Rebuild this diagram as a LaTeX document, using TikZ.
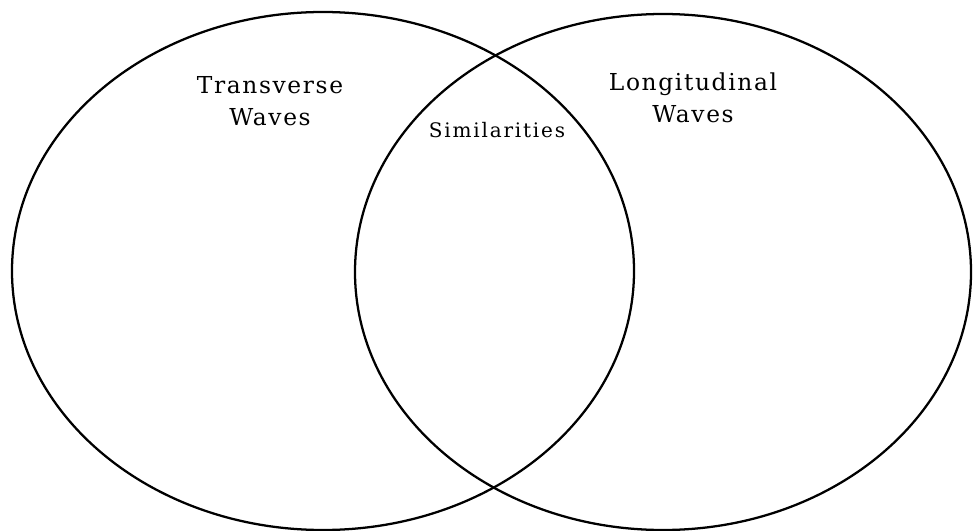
\documentclass[tikz,border=0pt]{standalone}
\usepackage{fontspec}
\setmainfont{DejaVu Serif}
\usepackage{tikz}
\usetikzlibrary{positioning}

\tikzset{
  setbox/.style={draw=black, line width=1.7pt},
  biglabel/.style={inner sep=0pt, align=center,
    font=\fontsize{17.5}{24}\selectfont\addfontfeature{LetterSpace=7}},
  midlabel/.style={inner sep=0pt,
    font=\fontsize{15}{18}\selectfont\addfontfeature{LetterSpace=9}}
}

\begin{document}
\begin{tikzpicture}[x=0.75pt, y=-0.75pt]
\useasboundingbox (0,0) rectangle (973,531);

% the two sets
\draw[setbox] (323,271) ellipse [x radius=311, y radius=259];
\draw[setbox] (663,272) ellipse [x radius=308, y radius=258];

% labels
\node[biglabel] (transverse) at (270,101) {Transverse\\Waves};
\node[biglabel] (longitudinal) at (693,98) {Longitudinal\\Waves};
\node[midlabel] (similar) at (497,130) {Similarities};

\end{tikzpicture}
\end{document}
